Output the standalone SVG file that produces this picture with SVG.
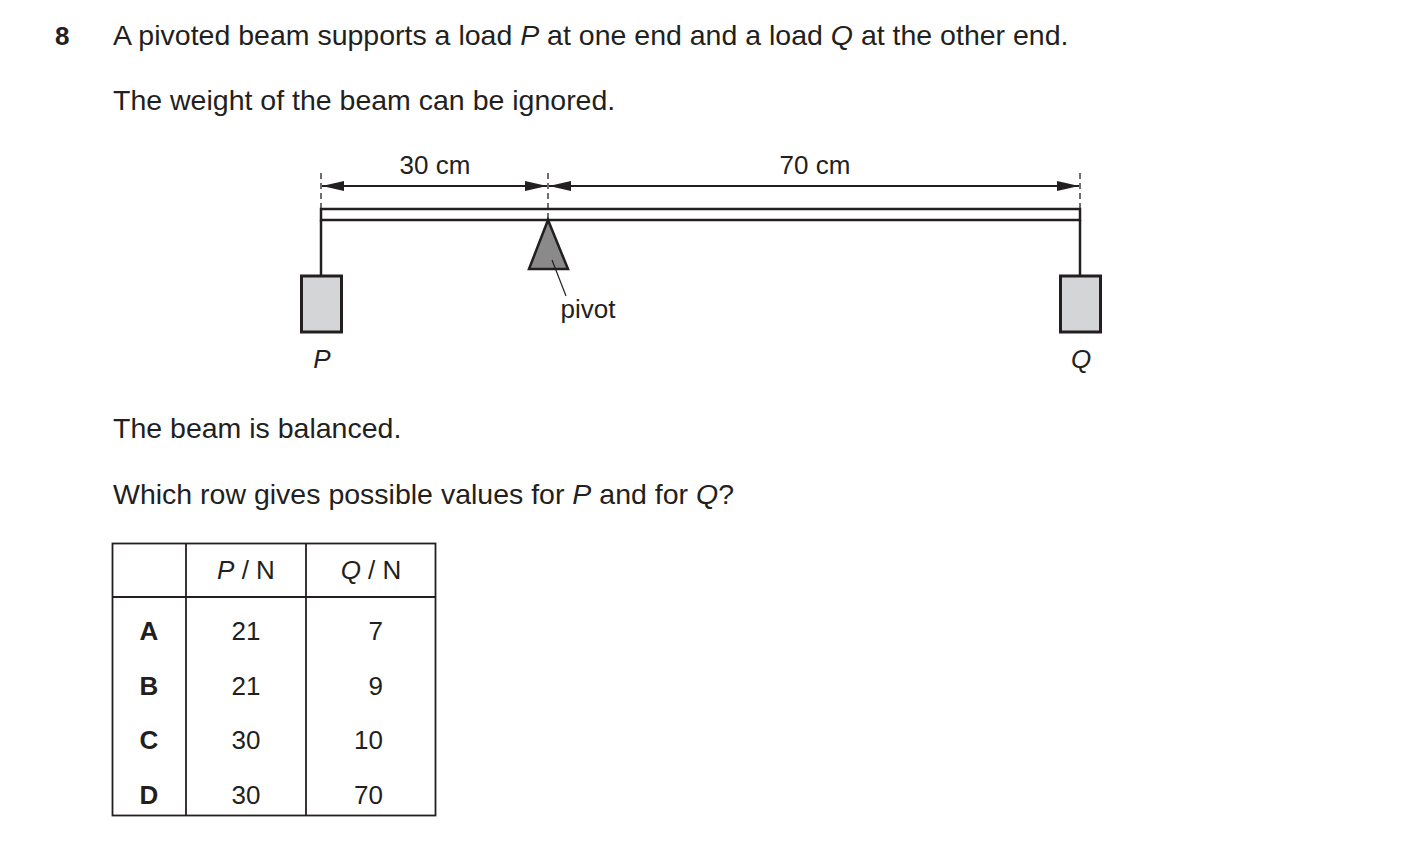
<svg xmlns="http://www.w3.org/2000/svg" width="1403" height="863" viewBox="0 0 1403 863">
<defs>
<marker id="ah" viewBox="0 0 20 10" refX="20" refY="5" markerWidth="22" markerHeight="11" markerUnits="userSpaceOnUse" orient="auto-start-reverse"><path d="M0,0.5 L20,5 L0,9.5 Z" fill="#231f20"/></marker>
<style>
text{font-family:"Liberation Sans",Arial,sans-serif;fill:#231f20}
.t{font-size:26px}
.m{font-size:28.5px}
.b{font-weight:bold}
.ln{stroke:#231f20;stroke-width:2.5;fill:none}
.w{fill:#d4d5d6;stroke:#231f20;stroke-width:3}
.d{stroke:#231f20;stroke-width:1.3;stroke-dasharray:6,4}
</style>
</defs>
<rect width="1403" height="863" fill="#fff"/>
<text x="55" y="45" class="t b">8</text>
<text x="113" y="45" class="m">A pivoted beam supports a load <tspan font-style="italic">P</tspan> at one end and a load <tspan font-style="italic">Q</tspan> at the other end.</text>
<text x="113" y="110" class="m">The weight of the beam can be ignored.</text>
<g id="beam"><rect x="321" y="209" width="759" height="11" fill="#fff" stroke="#231f20" stroke-width="2.5"/></g>
<g id="pivot"><polygon points="548,220 529,269 568,269" fill="#8a8a8b" stroke="#231f20" stroke-width="2.5"/><line x1="552" y1="260" x2="566" y2="296" stroke="#231f20" stroke-width="1.2"/><text x="588" y="318" text-anchor="middle" class="t">pivot</text></g>
<g id="P"><line x1="321" y1="220" x2="321" y2="276" class="ln"/><rect x="301.5" y="276" width="40" height="56" class="w"/><text x="322" y="368" text-anchor="middle" class="t" font-style="italic">P</text></g>
<g id="Q"><line x1="1080" y1="220" x2="1080" y2="276" class="ln"/><rect x="1060.5" y="276" width="40" height="56" class="w"/><text x="1081" y="368" text-anchor="middle" class="t" font-style="italic">Q</text></g>
<g id="connectors">
<line x1="321" y1="173" x2="321" y2="209" class="d"/>
<line x1="548" y1="173" x2="548" y2="220" class="d"/>
<line x1="1080" y1="173" x2="1080" y2="209" class="d"/>
<line x1="322" y1="186" x2="547" y2="186" stroke="#231f20" stroke-width="2" marker-start="url(#ah)" marker-end="url(#ah)"/>
<line x1="549" y1="186" x2="1079" y2="186" stroke="#231f20" stroke-width="2" marker-start="url(#ah)" marker-end="url(#ah)"/>
</g>
<text x="435" y="174" text-anchor="middle" class="t">30 cm</text>
<text x="815" y="174" text-anchor="middle" class="t">70 cm</text>
<text x="113" y="438" class="m">The beam is balanced.</text>
<text x="113" y="504" class="m">Which row gives possible values for <tspan font-style="italic">P</tspan> and for <tspan font-style="italic">Q</tspan>?</text>
<g id="table" stroke="#231f20" stroke-width="1.8" fill="none">
<rect x="112.5" y="543.5" width="323" height="272"/>
<line x1="186" y1="543" x2="186" y2="816"/><line x1="306" y1="543" x2="306" y2="816"/><line x1="112" y1="597" x2="436" y2="597"/>
</g>
<g>
<text x="246" y="579" text-anchor="middle" class="t"><tspan font-style="italic">P</tspan> / N</text>
<text x="371" y="579" text-anchor="middle" class="t"><tspan font-style="italic">Q</tspan> / N</text>
<text x="149" y="640" text-anchor="middle" class="t b">A</text><text x="246" y="640" text-anchor="middle" class="t">21</text><text x="383" y="640" text-anchor="end" class="t">7</text>
<text x="149" y="695" text-anchor="middle" class="t b">B</text><text x="246" y="695" text-anchor="middle" class="t">21</text><text x="383" y="695" text-anchor="end" class="t">9</text>
<text x="149" y="749" text-anchor="middle" class="t b">C</text><text x="246" y="749" text-anchor="middle" class="t">30</text><text x="383" y="749" text-anchor="end" class="t">10</text>
<text x="149" y="804" text-anchor="middle" class="t b">D</text><text x="246" y="804" text-anchor="middle" class="t">30</text><text x="383" y="804" text-anchor="end" class="t">70</text>
</g>
</svg>
